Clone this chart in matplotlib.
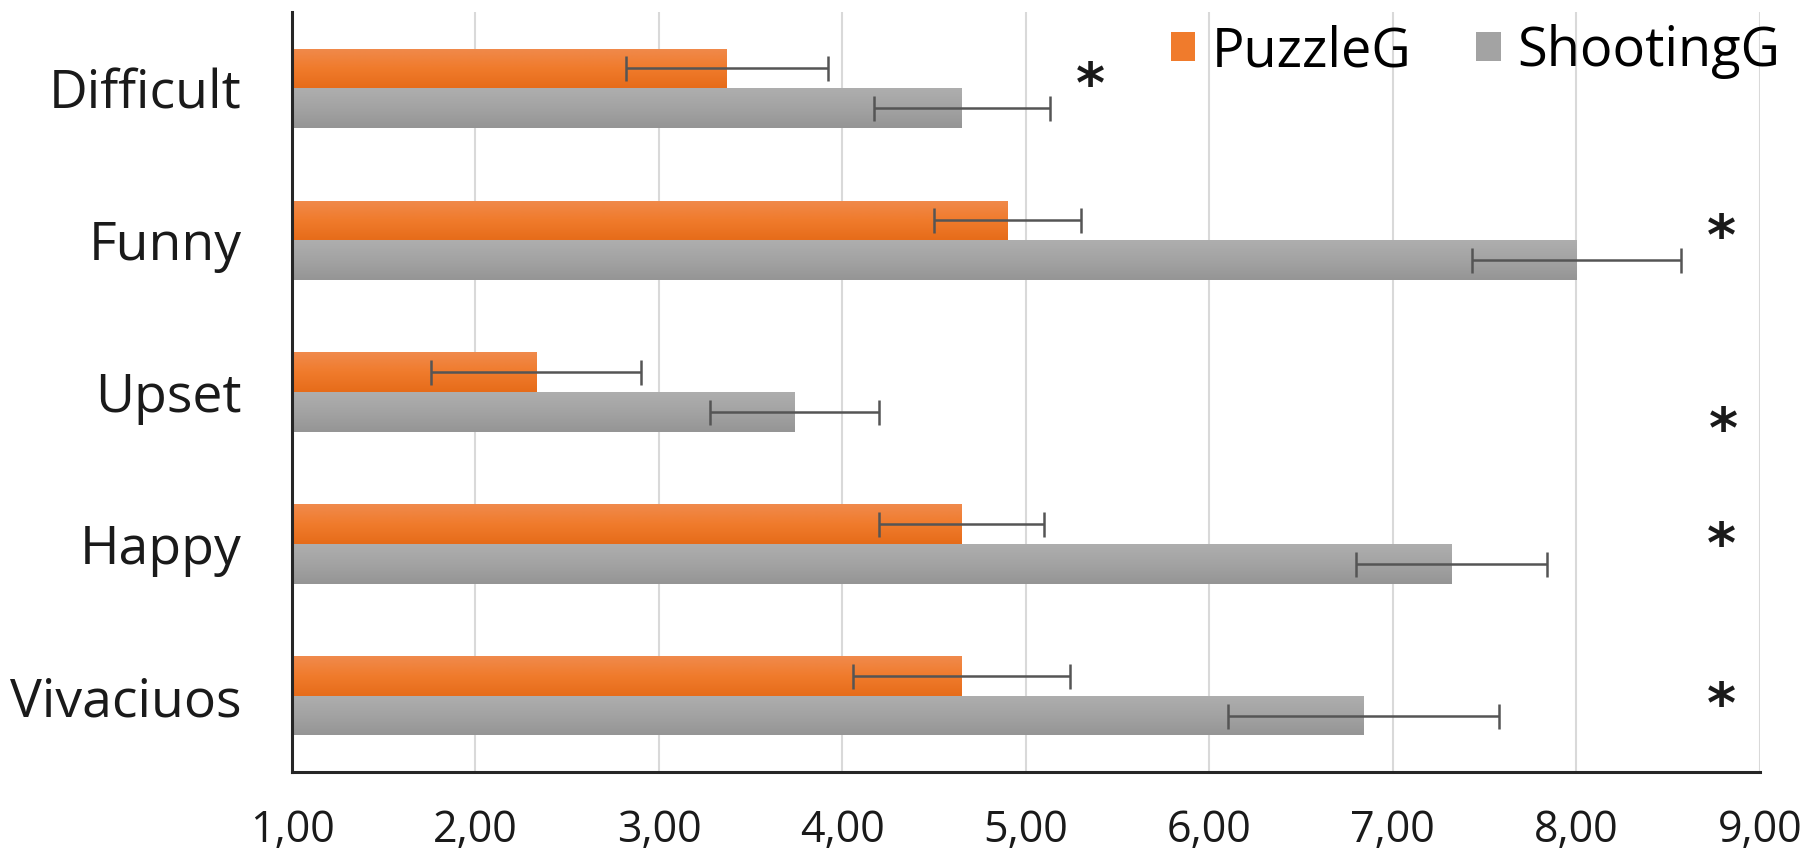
import numpy as np
import matplotlib
matplotlib.use("Agg")
import matplotlib.pyplot as plt
from matplotlib.patches import Patch
from matplotlib.colors import LinearSegmentedColormap

# Mean ratings per adjective for the two game groups, with error margins
categories = ["Difficult", "Funny", "Upset", "Happy", "Vivaciuos"]
series_labels = ["PuzzleG", "ShootingG"]
puzzle_means = [3.37, 4.90, 2.33, 4.65, 4.65]
puzzle_err = [0.55, 0.40, 0.57, 0.45, 0.59]
shooting_means = [4.65, 8.00, 3.74, 7.32, 6.84]
shooting_err = [0.48, 0.57, 0.46, 0.52, 0.74]
significant = [True, True, True, True, True]
xticks = [1, 2, 3, 4, 5, 6, 7, 8, 9]

FONT = ["Open Sans", "DejaVu Sans"]
plt.rcParams["font.family"] = FONT

fig = plt.figure(figsize=(18.18, 8.61), dpi=100)
ax = fig.add_axes([0.1606, 0.1034, 0.968 - 0.1606, 0.986 - 0.1034])

y = np.arange(len(categories))
h = 0.26
base = xticks[0]

orange_cmap = LinearSegmentedColormap.from_list("o", ["#F08A4C", "#F07B2C", "#E66C1A"])
gray_cmap = LinearSegmentedColormap.from_list("g", ["#AEAEAE", "#A3A3A3", "#959595"])
grad = np.linspace(0, 1, 64).reshape(-1, 1)

def gradient_bars(values, offsets, cmap, color):
    bars = ax.barh(y + offsets, np.array(values) - base, height=h, left=base,
                   color=color, edgecolor="none", zorder=2)
    for b in bars:
        x0, y0 = b.get_x(), b.get_y()
        im = ax.imshow(grad, cmap=cmap, aspect="auto", origin="upper",
                       extent=(x0, x0 + b.get_width(), y0 + b.get_height(), y0),
                       zorder=2.1, interpolation="bilinear")
        im.set_clip_path(b)
    return bars

gradient_bars(puzzle_means, -h / 2, orange_cmap, "#F07B2C")
gradient_bars(shooting_means, h / 2, gray_cmap, "#A3A3A3")

err_kw = dict(fmt="none", ecolor="#555555", elinewidth=1.8, capsize=9,
              capthick=1.8, zorder=3)
ax.errorbar(puzzle_means, y - h / 2, xerr=puzzle_err, **err_kw)
ax.errorbar(shooting_means, y + h / 2, xerr=shooting_err, **err_kw)

# significance markers
star_pos = [(5.35, -0.01), (8.79, -0.01), (8.80, 0.26), (8.79, 0.02), (8.79, 0.07)]
for i, sig in enumerate(significant):
    if sig:
        sx, dy = star_pos[i]
        ax.text(sx, y[i] + dy, "*", fontsize=40, ha="center", va="center",
                color="#1A1A1A", family=["DejaVu Sans"], weight="bold", zorder=4)

ax.set_xlim(xticks[0], xticks[-1])
ax.set_ylim(len(categories) - 0.5, -0.5)
ax.set_xticks(xticks)
ax.set_xticklabels([f"{t:.2f}".replace(".", ",") for t in xticks], fontsize=31)
ax.set_yticks(y)
ax.set_yticklabels(categories, fontsize=38.5)
ax.tick_params(axis="x", length=0, pad=26, colors="#1A1A1A")
ax.tick_params(axis="y", length=0, pad=36, colors="#1A1A1A")

ax.grid(axis="x", color="#D9D9D9", linewidth=1.5, zorder=0)
ax.set_axisbelow(True)
for s in ["top", "right"]:
    ax.spines[s].set_visible(False)
for s in ["left", "bottom"]:
    ax.spines[s].set_color("#262626")
    ax.spines[s].set_linewidth(2.2)

handles = [Patch(facecolor="#F07B2C"), Patch(facecolor="#A3A3A3")]
leg = fig.legend(handles, series_labels, loc="upper right",
                 bbox_to_anchor=(0.979, 0.972), ncol=2, frameon=False,
                 fontsize=39, handlelength=0.45, handleheight=0.45,
                 handletextpad=0.3, columnspacing=1.2, borderpad=0, borderaxespad=0)

fig.savefig("out.png", dpi=100)
